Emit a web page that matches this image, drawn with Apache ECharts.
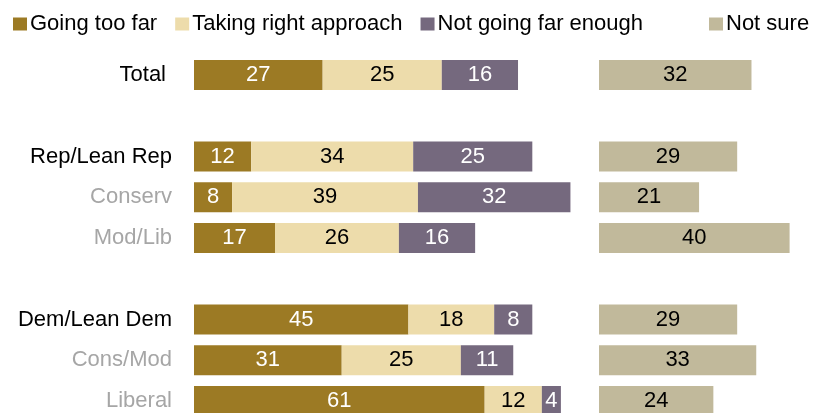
<!DOCTYPE html>
<html>
<head>
<meta charset="utf-8">
<script src="https://cdn.jsdelivr.net/npm/echarts@6/dist/echarts.min.js"></script>
<style>
  html, body { margin: 0; padding: 0; background: #fff; height: 413px; overflow: hidden; }
  /* canvas runs a little past the bottom edge so the last row is cut off */
  #chart { width: 821px; height: 430px; }
</style>
</head>
<body>
<div id="chart"></div>
<script>
// Row labels (blank entries are spacer rows between groups)
const categories = ['Total', '', 'Rep/Lean Rep', 'Conserv', 'Mod/Lib', '', 'Dem/Lean Dem', 'Cons/Mod', 'Liberal'];
const headingRows = ['Total', 'Rep/Lean Rep', 'Dem/Lean Dem'];

const seriesNames = ['Going too far', 'Taking right approach', 'Not going far enough', 'Not sure'];
const goingTooFar   = [27, null, 12,  8, 17, null, 45, 31, 61];
const rightApproach = [25, null, 34, 39, 26, null, 18, 25, 12];
const notFarEnough  = [16, null, 25, 32, 16, null,  8, 11,  4];
const notSure       = [32, null, 29, 21, 40, null, 29, 33, 24];

const colors = ['#9C7A24', '#EDDCAB', '#75697E', '#C1B99B'];
const labelColors = ['#ffffff', '#000000', '#ffffff', '#000000'];

const FONT = 'Liberation Sans, Arial, sans-serif';
const FS = 22;

const chart = echarts.init(document.getElementById('chart'), null, { renderer: 'canvas' });

// nine row slots of ~40.75px
const gridTop = 54.6;
const gridHeight = 9 * 40.75;
const pxPerUnit = 4.765;

function barSeries(idx, data, axisIdx, stack) {
  return {
    name: seriesNames[idx],
    type: 'bar',
    xAxisIndex: axisIdx,
    yAxisIndex: axisIdx,
    stack: stack,
    barWidth: 30,
    data: data,
    itemStyle: { color: colors[idx] },
    label: {
      show: true,
      position: 'inside',
      color: labelColors[idx],
      fontFamily: FONT,
      fontSize: FS,
      formatter: p => (p.value == null ? '' : String(p.value))
    },
    emphasis: { disabled: true },
    animation: false
  };
}

const option = {
  animation: false,
  legend: [
    {
      data: seriesNames.slice(0, 3),
      left: 8, top: 8,
      itemWidth: 14, itemHeight: 13, itemGap: 18,
      icon: 'rect',
      textStyle: { fontFamily: FONT, fontSize: FS, color: '#000', padding: [0, 0, 0, -2] },
      selectedMode: false
    },
    {
      data: [seriesNames[3]],
      left: 704, top: 8,
      itemWidth: 14, itemHeight: 13,
      icon: 'rect',
      textStyle: { fontFamily: FONT, fontSize: FS, color: '#000', padding: [0, 0, 0, -2] },
      selectedMode: false
    }
  ],
  grid: [
    { left: 194, top: gridTop, width: 100 * pxPerUnit, height: gridHeight, containLabel: false },
    { left: 599, top: gridTop, width: 40 * pxPerUnit, height: gridHeight, containLabel: false }
  ],
  xAxis: [
    { gridIndex: 0, type: 'value', min: 0, max: 100, show: false },
    { gridIndex: 1, type: 'value', min: 0, max: 40, show: false }
  ],
  yAxis: [
    {
      gridIndex: 0, type: 'category', data: categories, inverse: true,
      axisLine: { show: false }, axisTick: { show: false }, splitLine: { show: false },
      axisLabel: {
        margin: 22,
        fontFamily: FONT,
        fontSize: FS,
        formatter: v => v === 'Total' ? '{t|' + v + '}' : (headingRows.includes(v) ? '{h|' + v + '}' : '{s|' + v + '}'),
        rich: {
          t: { color: '#000', fontFamily: FONT, fontSize: FS, padding: [0, 6, 0, 0] },
          h: { color: '#000', fontFamily: FONT, fontSize: FS },
          s: { color: '#A6A6A6', fontFamily: FONT, fontSize: FS }
        }
      }
    },
    {
      gridIndex: 1, type: 'category', data: categories, inverse: true, show: false
    }
  ],
  series: [
    barSeries(0, goingTooFar, 0, 'main'),
    barSeries(1, rightApproach, 0, 'main'),
    barSeries(2, notFarEnough, 0, 'main'),
    barSeries(3, notSure, 1, 'side')
  ]
};

chart.setOption(option);
</script>
</body>
</html>
